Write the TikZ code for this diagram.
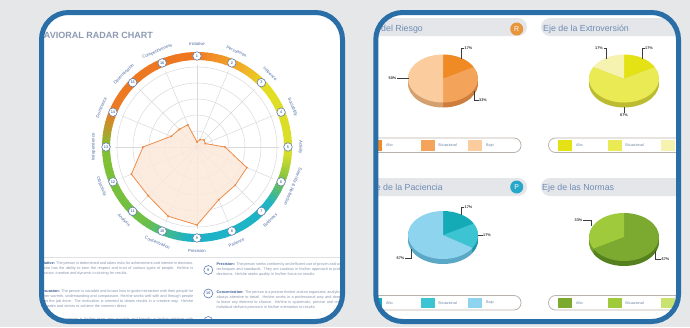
\documentclass[tikz,border=0pt]{standalone}
\usepackage{fontspec}
\setmainfont{Liberation Sans}
\usetikzlibrary{calc}
\definecolor{bgc}{RGB}{229,231,233}
\definecolor{frameblue}{RGB}{42,110,168}
\definecolor{gridgray}{RGB}{218,218,222}
\definecolor{numblue}{RGB}{95,125,175}
\definecolor{labblue}{RGB}{80,110,165}
\definecolor{titlec}{RGB}{140,155,178}
\definecolor{polyfill}{RGB}{252,232,218}
\definecolor{polyline}{RGB}{238,140,70}
\definecolor{paratext}{RGB}{135,150,175}
\definecolor{parabold}{RGB}{60,95,150}
\definecolor{sepgray}{RGB}{222,224,228}
\definecolor{c0}{RGB}{240,125,35}
\definecolor{c1}{RGB}{242,175,40}
\definecolor{c2}{RGB}{228,222,35}
\definecolor{c3}{RGB}{214,222,40}
\definecolor{c4}{RGB}{120,192,70}
\definecolor{c5}{RGB}{30,180,195}
\definecolor{c6}{RGB}{30,178,200}
\definecolor{c7}{RGB}{110,192,70}
\definecolor{c8}{RGB}{130,192,50}
\definecolor{c9}{RGB}{236,122,35}
\definecolor{c10}{RGB}{238,118,32}
\definecolor{hdrgray}{RGB}{228,230,234}
\definecolor{hdrblue}{RGB}{110,140,180}
\definecolor{pillgray}{RGB}{185,178,172}
\definecolor{legblue}{RGB}{110,130,165}
\definecolor{leadgray}{RGB}{60,60,60}
\definecolor{pcttext}{RGB}{50,50,50}
\definecolor{rorange}{RGB}{232,150,60}
\definecolor{pteal}{RGB}{40,168,200}
\definecolor{rsA}{RGB}{240,138,36}\definecolor{rsAs}{RGB}{200,100,30}
\definecolor{rsB}{RGB}{244,164,90}\definecolor{rsBs}{RGB}{205,125,60}
\definecolor{rsC}{RGB}{250,204,158}\definecolor{rsCs}{RGB}{212,160,112}
\definecolor{exA}{RGB}{228,226,20}\definecolor{exAs}{RGB}{180,178,20}
\definecolor{exB}{RGB}{234,234,85}\definecolor{exBs}{RGB}{188,188,50}
\definecolor{exC}{RGB}{245,243,175}\definecolor{exCs}{RGB}{200,198,120}
\definecolor{paA}{RGB}{20,170,182}\definecolor{paAs}{RGB}{10,130,140}
\definecolor{paB}{RGB}{60,196,210}\definecolor{paBs}{RGB}{30,150,165}
\definecolor{paC}{RGB}{142,212,238}\definecolor{paCs}{RGB}{90,168,198}
\definecolor{noA}{RGB}{124,170,48}\definecolor{noAs}{RGB}{85,128,30}
\definecolor{noB}{RGB}{158,202,60}\definecolor{noBs}{RGB}{112,158,40}
\definecolor{noC}{RGB}{202,226,112}
\newcommand\drawpie[2]{%
  \foreach \dd in {5,4,3,2,1}{%
    \foreach \pa/\pb/\pt/\ps in {#2}{%
      \fill[\ps] ($(#1)+(0,\dd)$) -- ++({\pa-90}:35 and 24) arc[start angle={\pa-90}, end angle={\pb-90}, x radius=35, y radius=24] -- cycle;
    }%
  }%
  \foreach \pa/\pb/\pt/\ps in {#2}{%
    \fill[\pt] (#1) -- ++({\pa-90}:35 and 24) arc[start angle={\pa-90}, end angle={\pb-90}, x radius=35, y radius=24] -- cycle;
  }%
}
\begin{document}
\begin{tikzpicture}[x=1pt,y=-1pt,
  panelframe/.style={draw=frameblue, line width=5pt, rounded corners=27pt},
  gridline/.style={draw=gridgray, line width=0.5pt},
  numcirc/.style={circle, draw=numblue, fill=white, line width=0.6pt, inner sep=0pt, minimum size=8.5pt, font=\fontsize{3.8}{4}\selectfont\bfseries, text=numblue},
  ringlab/.style={font=\fontsize{4.3}{4.5}\selectfont, text=labblue, inner sep=0pt},
  pct/.style={font=\fontsize{3.8}{4}\selectfont\bfseries, text=pcttext, inner sep=0.5pt},
  leader/.style={draw=leadgray, line width=0.6pt},
  hdrbar/.style={fill=hdrgray, rounded corners=9pt},
  hdrtext/.style={font=\fontsize{8.8}{9}\selectfont, text=hdrblue, inner sep=0pt},
  pill/.style={draw=pillgray, line width=0.8pt, fill=white, rounded corners=7pt},
  legtext/.style={font=\fontsize{3.8}{4}\selectfont, text=legblue, inner sep=0pt, anchor=west},
  para/.style={font=\fontsize{3.8}{5}\selectfont, text=paratext, inner sep=0pt, anchor=north west, text width=#1, align=justify},
  badge/.style={circle, inner sep=0pt, minimum size=13pt, font=\fontsize{7}{7}\selectfont, text=white},
]
\useasboundingbox (0,0) rectangle (690,327);
\fill[bgc] (0,0) rectangle (690,327);

% ================= LEFT PANEL =================
\fill[white, rounded corners=27pt] (41.5,12.5) rectangle (342.5,321.5);
\begin{scope}
\clip[rounded corners=27pt] (41.5,12.5) rectangle (342.5,321.5);
\node[anchor=base east, font=\bfseries\fontsize{9}{9}\selectfont, text=titlec, inner sep=0pt] (title) at (153,38) {BEHAVIORAL RADAR CHART};
\coordinate (C) at (197,147);
% grid
\foreach \r in {16,32,48,64,80} \draw[gridline] (C) circle[radius=\r];
\foreach \k in {0,...,15} \draw[gridline] (C) -- ++({\k*22.5-90}:82);
\fill[gridgray!80!gray] (C) circle[radius=2];
% ring
\foreach \sa/\sb/\ca/\cb in {0/30/c0/c1, 30/50/c1/c2, 50/95/c2/c3, 95/112/c3/c4, 112/128/c4/c5, 128/185/c5/c6, 185/215/c6/c7, 215/270/c7/c8, 270/292/c8/c9, 292/360/c9/c10}{%
  \foreach \i in {0,...,9}{%
    \pgfmathsetmacro\s{\sa+(\sb-\sa)*\i/10}%
    \pgfmathsetmacro\e{\sa+(\sb-\sa)*(\i+1)/10+0.6}%
    \pgfmathtruncatemacro\p{\i*10+5}%
    \draw[line width=8pt, draw=\cb!\p!\ca] (C) ++({\s-90}:91) arc[start angle={\s-90}, end angle={\e-90}, radius=91];
  }%
}
% polygon
\foreach \k/\r in {1/5,2/8,3/10,4/9,5/28,6/54,7/54,8/57,9/78,10/75,11/69,12/71,13/54,14/28,15/25,16/24}
  \coordinate (p\k) at ($(C)+({(\k-1)*22.5-90}:\r)$);
\filldraw[fill=polyfill, fill opacity=0.85, draw=polyline, line width=0.8pt, line join=round]
  (p1) -- (p2) -- (p3) -- (p4) -- (p5) -- (p6) -- (p7) -- (p8) -- (p9) -- (p10) -- (p11) -- (p12) -- (p13) -- (p14) -- (p15) -- (p16) -- cycle;
\foreach \k in {1,...,16} \fill[polyline] (p\k) circle[radius=1.1];
% ring numbers and labels
\foreach \k/\nm/\rot in {1/Initiative/0, 2/Persuasion/-22.5, 3/Influence/-45, 4/Sociability/-67.5, 5/Activity/-90, 6/{Serenity \& Reflection}/-112.5, 7/Boldness/45, 8/Patience/22.5, 9/Precision/0, 10/Concentration/-22.5, 11/Analysis/-45, 12/Objectivity/-67.5, 13/Independence/90, 14/Dominance/67.5, 15/Determination/45, 16/Competitiveness/22.5}{%
  \node[numcirc] (n\k) at ($(C)+({(\k-1)*22.5-90}:91)$) {\k};
  \node[ringlab, rotate=\rot] (l\k) at ($(C)+({(\k-1)*22.5-90}:103.5)$) {\nm};
}
% separator and description text
\draw[sepgray, line width=0.8pt] (40,257.5) -- (345,257.5);
\node[para=155pt] (d1) at (38,262) {\textcolor{parabold}{\textbf{Initiative:}} The person is determined and takes risks for achievement and interest in decision. He/she has the ability to earn the respect and trust of various types of people. He/she is proactive, creative and dynamic in striving for results.};
\node[para=155pt] (d2) at (38,289.5) {\textcolor{parabold}{\textbf{Persuasion:}} The person is sociable and knows how to guide interaction with their people for his/her warmth, understanding and compassion. He/she works well with and through people to get the job done. The motivation is oriented to obtain results in a creative way. He/she persuades and strives to achieve the common direct.};
\node[para=155pt] (d3) at (38,317.5) {\textcolor{parabold}{\textbf{Influence:}} The person is his/her team very sociable and friendly in his/her relations with others.};
\node[numcirc, minimum size=9pt] (k9) at (208.3,270) {9};
\node[numcirc, minimum size=9pt] (k10) at (208.3,293.5) {10};
\node[numcirc, minimum size=9pt] (k11) at (208.3,321) {11};
\node[para=140pt] (d9) at (216.5,263) {\textcolor{parabold}{\textbf{Precision:}} The person seeks conformity and efficient use of proven and well defined techniques and standards. They are cautious in his/her approach to problems and decisions. He/she seeks quality in his/her focus on results.};
\node[para=140pt] (d10) at (216.5,290.5) {\textcolor{parabold}{\textbf{Concentration:}} The person is a precise thinker and an organized, analytical person, always attentive to detail. He/she works in a professional way and does not wish to leave any element to chance. He/she is systematic, precise and orderly. This individual delivers precision in his/her orientation to results.};
\end{scope}
\draw[panelframe] (41.5,12.5) rectangle (342.5,321.5);

% ================= RIGHT PANEL =================
\fill[white, rounded corners=27pt] (375.8,12.5) rectangle (678.5,321.5);
\begin{scope}
\clip[rounded corners=27pt] (375.8,12.5) rectangle (678.5,321.5);
% headers
\fill[hdrbar] (355,18) rectangle (527,36);
\fill[hdrbar] (541,18) rectangle (700,36);
\fill[hdrbar] (355,178) rectangle (527,196);
\fill[hdrbar] (541,178) rectangle (700,196);
\node[hdrtext, anchor=base east] (h1) at (423,31.5) {Eje del Riesgo};
\node[hdrtext, anchor=base west] (h2) at (543,31.5) {Eje de la Extroversión};
\node[hdrtext, anchor=base east] (h3) at (443,190) {Eje de la Paciencia};
\node[hdrtext, anchor=base west] (h4) at (542,190) {Eje de las Normas};
\node[badge, fill=rorange] (rb) at (516.7,29) {R};
\node[badge, fill=pteal] (pb) at (516.7,187) {P};
% pies
\coordinate (pie1) at (443,78.5);
\coordinate (pie2) at (624,78.5);
\coordinate (pie3) at (443,235);
\coordinate (pie4) at (624,237);
\drawpie{pie1}{0/61.2/rsA/rsAs, 61.2/180/rsB/rsBs, 180/360/rsC/rsCs}
\drawpie{pie2}{0/61.2/exA/exAs, 61.2/298.8/exB/exBs, 298.8/360/exC/exCs}
\drawpie{pie3}{0/61.2/paA/paAs, 61.2/122.4/paB/paBs, 122.4/360/paC/paCs}
\drawpie{pie4}{0/241.2/noA/noAs, 241.2/360/noB/noBs}
% pie labels and leaders
\node[pct, anchor=west] (a1) at (464,48) {17\%};
\node[pct, anchor=west] (b1) at (478.5,100) {33\%};
\node[pct, anchor=east] (c1) at (397,78.5) {50\%};
\coordinate (a1s) at (461.5,58.5);
\coordinate (b1s) at (474,91);
\coordinate (c1s) at (408.5,78.5);
\draw[leader] (a1s) |- (a1.west);
\draw[leader] (b1s) |- (b1.west);
\draw[leader] (c1s) -- (c1.east);
\node[pct, anchor=east] (a2) at (603.5,48) {17\%};
\node[pct, anchor=west] (b2) at (644.5,48) {17\%};
\node[pct, anchor=north] (c2) at (624,113) {67\%};
\coordinate (a2s) at (606,58.5);
\coordinate (b2s) at (642,58.5);
\coordinate (c2s) at (624,107);
\draw[leader] (a2s) |- (a2.east);
\draw[leader] (b2s) |- (b2.west);
\draw[leader] (c2s) -- (c2.north);
\node[pct, anchor=west] (a3) at (464,207) {17\%};
\node[pct, anchor=west] (b3) at (482.5,235.5) {17\%};
\node[pct, anchor=east] (c3) at (405,258) {67\%};
\coordinate (a3s) at (461.5,215);
\coordinate (b3s) at (478,235.5);
\coordinate (c3s) at (411.5,249);
\draw[leader] (a3s) |- (a3.west);
\draw[leader] (b3s) -- (b3.west);
\draw[leader] (c3s) |- (c3.east);
\node[pct, anchor=east] (a4) at (583,220) {33\%};
\node[pct, anchor=west] (b4) at (661,259) {67\%};
\coordinate (a4s) at (591,226);
\coordinate (b4s) at (655,251);
\draw[leader] (a4s) |- (a4.east);
\draw[leader] (b4s) |- (b4.west);
% legends
\draw[pill] (360,138) rectangle (521,152.5);
\draw[pill] (548.5,138) rectangle (710,152.5);
\draw[pill] (360,295.5) rectangle (521,310);
\draw[pill] (548.5,295.5) rectangle (710,310);
\foreach \y/\la/\lb/\lc/\ra/\rb/\rc in {140/rsA/rsB/rsC/exA/exB/exC, 297.5/paA/paB/paC/noA/noB/noC}{%
  \fill[\la] (368,\y) rectangle (382,\y+10.5);
  \fill[\lb] (421,\y) rectangle (435,\y+10.5);
  \fill[\lc] (468,\y) rectangle (482,\y+10.5);
  \fill[\ra] (558,\y) rectangle (572,\y+10.5);
  \fill[\rb] (608,\y) rectangle (622,\y+10.5);
  \fill[\rc] (661,\y) rectangle (675,\y+10.5);
  \node[legtext] at (386,\y+5.25) {Alto};
  \node[legtext] at (438,\y+5.25) {Situacional};
  \node[legtext] at (486,\y+5.25) {Bajo};
  \node[legtext] at (576,\y+5.25) {Alto};
  \node[legtext] at (625,\y+5.25) {Situacional};
  \node[legtext] at (679,\y+5.25) {Bajo};
}
\end{scope}
\draw[panelframe] (375.8,12.5) rectangle (678.5,321.5);
\end{tikzpicture}
\end{document}
